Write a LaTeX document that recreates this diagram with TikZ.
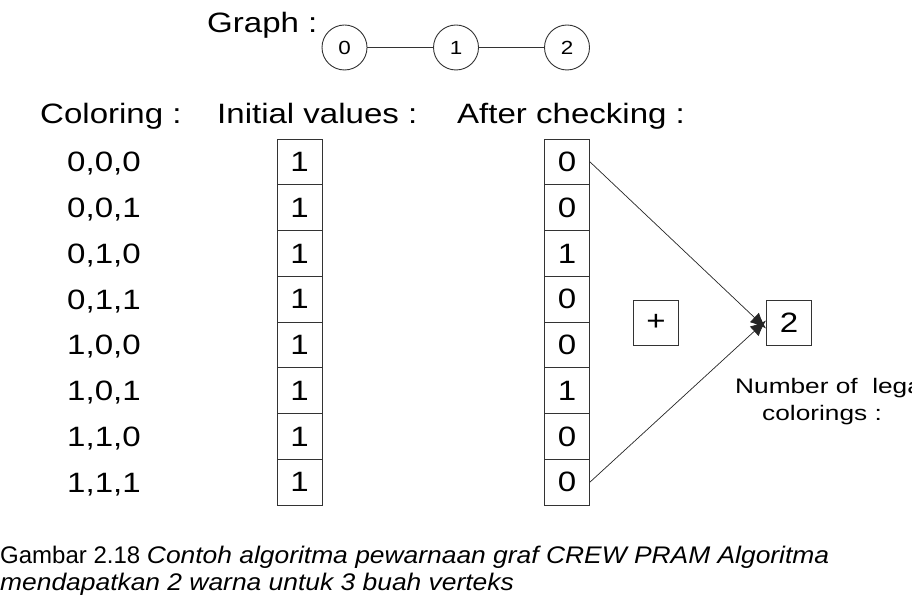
\documentclass[tikz,border=0pt]{standalone}
\usepackage{fontspec}
\setmainfont{Liberation Sans}[FakeStretch=1.18]
\newfontfamily\widesans{Liberation Sans}[FakeStretch=1.25]
\newfontfamily\capup{Liberation Sans}[FakeStretch=1.0]
\newfontfamily\capit{Liberation Sans Italic}[FakeStretch=1.1]
\usetikzlibrary{arrows.meta}
\begin{document}
\begin{tikzpicture}[x=1pt,y=-1pt,
  lbl/.style={inner sep=0pt,font=\fontsize{28}{32}\selectfont},
  cell/.style={draw=black!80,line width=0.9pt,minimum width=45pt,minimum height=45.75pt,inner sep=0pt,font=\fontsize{28}{32}\selectfont},
  vtx/.style={draw=black!80,line width=0.9pt,circle,minimum size=45pt,inner sep=0pt,font=\fontsize{19}{22}\selectfont},
  edge/.style={draw=black!80,line width=0.8pt},
  arr/.style={draw=black!85,line width=0.7pt,-{Latex[length=16pt,width=13pt]}},
  note/.style={inner sep=0pt,font=\widesans\fontsize{21}{25}\selectfont,anchor=base west},
  captxt/.style={inner sep=0pt,font=\fontsize{24}{28}\selectfont,anchor=base west}]
\clip (0,0) rectangle (912,601);
\fill[white] (0,0) rectangle (912,601);
% graph
\node[lbl,anchor=base west] (gl) at (207,33) {Graph :};
\node[vtx] (v0) at (344.5,47.5) {0};
\node[vtx] (v1) at (456,47.5) {1};
\node[vtx] (v2) at (567,47.5) {2};
\draw[edge] (v0) -- (v1);
\draw[edge] (v1) -- (v2);
% headers
\node[lbl,anchor=base west] (h1) at (40,124) {Coloring :};
\node[lbl,anchor=base west] (h2) at (217,124) {Initial values :};
\node[lbl,anchor=base west] (h3) at (457,124) {After checking :};
% rows
\foreach \c/\v [count=\i from 0] in {{0,0,0}/0,{0,0,1}/0,{0,1,0}/1,{0,1,1}/0,{1,0,0}/0,{1,0,1}/1,{1,1,0}/0,{1,1,1}/0}{
  \pgfmathsetmacro{\yc}{139+45.75*(\i+0.5)}
  \node[lbl,anchor=base west] (c\i) at (67,\yc+10) {\c};
  \node[cell] (a\i) at (299.5,\yc) {1};
  \node[cell] (b\i) at (567,\yc) {\v};
}
% sum
\node[cell,minimum height=45pt] (plus) at (656,322.5) {+};
\node[cell,minimum height=45pt] (num) at (789,322.5) {2};
\draw[arr] (b0.east) -- ([yshift=-6pt]num.west);
\draw[arr] (b7.east) -- ([yshift=2pt]num.west);
\node[note] (t1) at (735,393) {Number of\ \ legal};
\node[note] (t2) at (762,420) {colorings :};
% caption
\node[captxt] (g1) at (0,563) {\capup Gambar 2.18 \capit Contoh algoritma pewarnaan graf CREW PRAM Algoritma};
\node[captxt] (g2) at (0,590) {\capit mendapatkan 2 warna untuk 3 buah verteks};
\end{tikzpicture}
\end{document}
